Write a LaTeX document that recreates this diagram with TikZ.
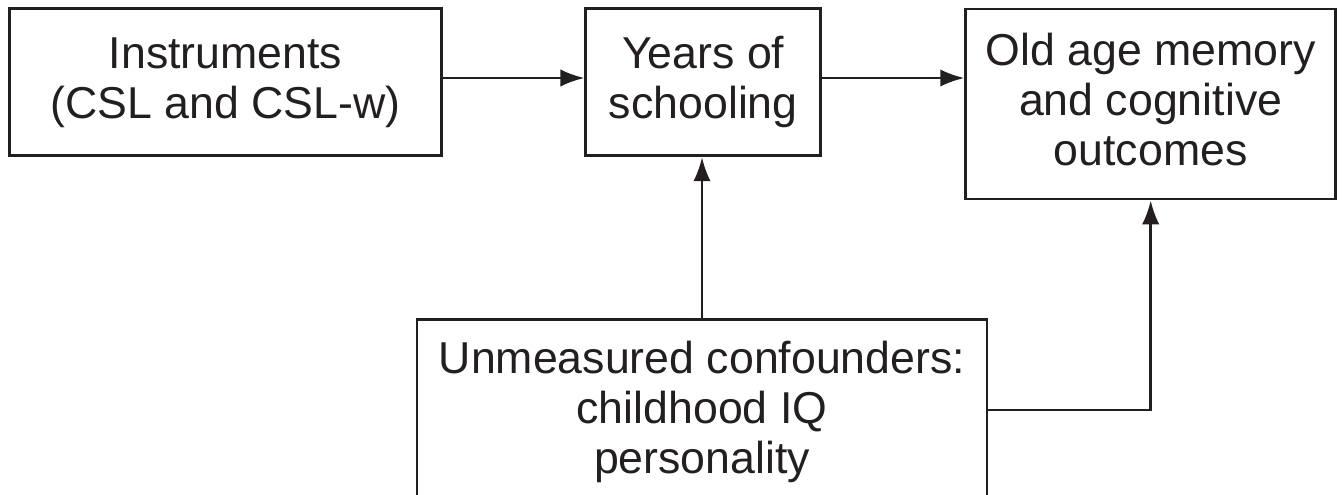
\documentclass[tikz,border=0pt]{standalone}
\usepackage{fontspec}
\setmainfont{Liberation Sans}
\usetikzlibrary{arrows.meta}
\definecolor{ink}{RGB}{35,31,32}
\begin{document}
\begin{tikzpicture}[x=0.75pt,y=-0.75pt,
  box/.style={draw=ink,line width=2pt,inner sep=0pt,align=center,text=ink,
    font=\fontsize{33.5}{37.5}\selectfont},
  arr/.style={draw=ink,line width=2pt,-{Latex[length=18pt,width=13pt]}}]
\useasboundingbox (0,0) rectangle (1342,495);
\begin{scope}
\clip (0,0) rectangle (1342,495);
\node[box,minimum width=324pt,minimum height=110.25pt] (b1) at (225.5,82.3) {Instruments\\(CSL and CSL-w)};
\node[box,minimum width=176.25pt,minimum height=110.25pt] (b2) at (703.3,82.3) {Years of\\schooling};
\node[box,minimum width=277.5pt,minimum height=142.5pt] (b3) at (1150.7,104) {Old age memory\\and cognitive\\outcomes\vphantom{y}};
\node[box,minimum width=427.5pt,minimum height=138.6pt,anchor=north] (b4) at (702,318) {Unmeasured confounders:\\childhood IQ\\personality};
\coordinate (h) at (0,78);
\coordinate (v) at (0,410);
\draw[arr] (b1.east |- h) -- (b2.west |- h);
\draw[arr] (b2.east |- h) -- (b3.west |- h);
\draw[arr] (b4.north) -- (b4.north |- b2.south);
\draw[arr] (b4.east |- v) -| (b3.south);
\end{scope}
\end{tikzpicture}
\end{document}
